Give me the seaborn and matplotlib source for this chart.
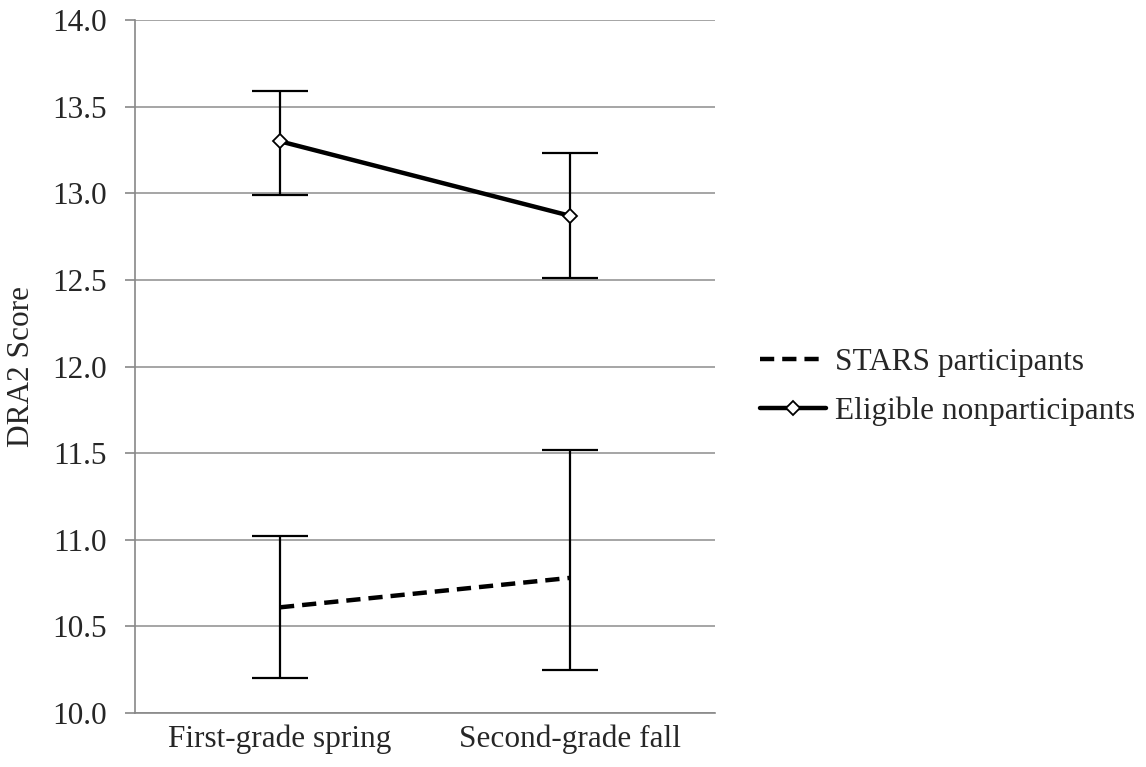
import matplotlib
matplotlib.use("Agg")
import matplotlib.pyplot as plt
import seaborn as sns
import pandas as pd
from matplotlib.lines import Line2D

# Data
categories = ["First-grade spring", "Second-grade fall"]
stars_mean = [10.61, 10.78]
stars_low = [10.20, 10.25]
stars_high = [11.02, 11.52]
elig_mean = [13.30, 12.87]
elig_low = [12.99, 12.51]
elig_high = [13.59, 13.23]
series_names = ["STARS participants", "Eligible nonparticipants"]
y_ticks = [10.0, 10.5, 11.0, 11.5, 12.0, 12.5, 13.0, 13.5, 14.0]

sns.set_theme(style="white")
plt.rcParams['font.family'] = ['Liberation Serif', 'DejaVu Serif']
FS = 22.5

df = pd.DataFrame({
    "time": categories * 2,
    "score": stars_mean + elig_mean,
    "group": [series_names[0]] * 2 + [series_names[1]] * 2,
})

fig = plt.figure(figsize=(11.46, 7.67), dpi=100)
ax = fig.add_axes([0.1178, 0.0704, 0.5061, 0.9035])

# Error bars
for i in range(2):
    for m, lo, hi in ((stars_mean, stars_low, stars_high), (elig_mean, elig_low, elig_high)):
        ax.errorbar([i], [m[i]], yerr=[[m[i] - lo[i]], [hi[i] - m[i]]],
                    fmt='none', ecolor='black', elinewidth=1.6, capsize=20,
                    capthick=1.6, zorder=3)

DASH = (0, (3.2, 1.8))
sns.lineplot(data=df[df.group == series_names[0]], x="time", y="score",
             color="black", linewidth=3.2, ax=ax, linestyle=DASH,
             legend=False, zorder=4, sort=False)
sns.lineplot(data=df[df.group == series_names[1]], x="time", y="score",
             color="black", linewidth=3.2, ax=ax, marker='D', markersize=7,
             markerfacecolor='white', markeredgecolor='black', markeredgewidth=1.3,
             legend=False, zorder=4, sort=False)

ax.set_ylim(10.0, 14.0)
ax.set_xlim(-0.5, 1.5)
ax.set_yticks(y_ticks)
ax.set_yticklabels([f"{v:.1f}" for v in y_ticks], fontsize=FS)
ax.set_xticks([0, 1])
ax.set_xticklabels(categories, fontsize=FS)
ax.set_xticks([-0.5, 0.5, 1.5], minor=True)
ax.tick_params(axis='x', which='major', length=0, pad=8)
ax.tick_params(axis='x', which='minor', length=7, color='#888888', width=1.2, direction='out')
ax.tick_params(axis='y', which='major', length=7, color='#888888', width=1.2, direction='out', pad=13, left=True)
ax.set_xlabel("")
ax.set_ylabel("DRA2 Score", fontsize=FS, labelpad=12)
ax.yaxis.grid(True, color='#969696', linewidth=1.2)
ax.set_axisbelow(True)
for s in ("top", "right"):
    ax.spines[s].set_visible(False)
for s in ("left", "bottom"):
    ax.spines[s].set_color('#888888')
    ax.spines[s].set_linewidth(1.2)

handles = [
    Line2D([], [], color='black', linewidth=3.2, linestyle=DASH),
    Line2D([], [], color='black', linewidth=3.2, marker='D', markersize=7,
           markerfacecolor='white', markeredgecolor='black', markeredgewidth=1.3),
]
fig.legend(handles, series_names, loc='center left', bbox_to_anchor=(0.6525, 0.4954),
           bbox_transform=fig.transFigure, frameon=False, fontsize=FS,
           handlelength=2.1, handletextpad=0.3, labelspacing=0.6, borderaxespad=0)

fig.savefig("out.png", dpi=100)
